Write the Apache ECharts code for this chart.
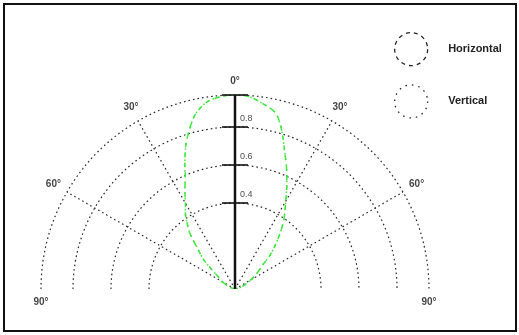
<!DOCTYPE html>
<html>
<head>
<meta charset="utf-8">
<script src="https://cdn.jsdelivr.net/npm/echarts@6/dist/echarts.min.js"></script>
<style>
  html, body { margin: 0; padding: 0; background: #ffffff; }
  #chart { width: 519px; height: 335px; }
</style>
</head>
<body>
<div id="chart"></div>
<script>
// Directivity: relative luminous intensity vs. angle from the optical axis
const curveAngles = [-90, -70, -60, -55, -50, -47, -43, -39, -36, -33,
  -30, -27, -24, -22, -19, -17, -14, -12, -8.5, -4,
  0,
  4, 8, 12.7, 15, 17, 20, 23, 26, 31, 35,
  39, 43, 46, 49, 53, 57, 62, 68, 75, 90];
const horizontalValues = [0, 0.03, 0.08, 0.10, 0.16, 0.22, 0.28, 0.37, 0.42, 0.47,
  0.51, 0.57, 0.63, 0.69, 0.78, 0.83, 0.90, 0.935, 0.975, 0.995,
  1.0,
  0.995, 0.97, 0.935, 0.89, 0.835, 0.75, 0.68, 0.61, 0.505, 0.44,
  0.37, 0.30, 0.25, 0.19, 0.15, 0.12, 0.08, 0.05, 0.025, 0];
const verticalValues = [0, 0.03, 0.08, 0.10, 0.155, 0.22, 0.28, 0.37, 0.42, 0.47,
  0.51, 0.57, 0.63, 0.69, 0.78, 0.83, 0.90, 0.935, 0.975, 0.995,
  1.0,
  0.995, 0.97, 0.935, 0.89, 0.835, 0.75, 0.68, 0.61, 0.505, 0.44,
  0.37, 0.30, 0.25, 0.19, 0.15, 0.12, 0.08, 0.05, 0.025, 0];
const seriesNames = ['Horizontal', 'Vertical'];

// Angle scale
const angleTicks = [-90, -60, -30, 0, 30, 60, 90];
const angleTickLabels = ['90°', '60°', '30°', '0°', '30°', '60°', '90°'];
const radialAngles = [-60, -30, 30, 60];

// Intensity rings along the optical axis
const ringValues = [0.4, 0.6, 0.8];
const ringLabels = ['0.4', '0.6', '0.8'];
const radiusMax = 1.0;

// Layout
const CX = 235, CY = 289, R = 194;
const RING_INNER = 86, RING_OUTER = 162;
const FONT = 'Liberation Sans';
const DOT = [1.6, 3];
const GRID_COLOR = '#2a2a2a';
const GREEN = '#3ee83e';

const chart = echarts.init(document.getElementById('chart'), null, { renderer: 'canvas' });

const semicircleAngle = (show) => ({
  type: 'value', min: -90, max: 90, startAngle: 180, endAngle: 0, clockwise: true,
  axisLine: { show: show, lineStyle: { color: GRID_COLOR, width: 1.2, type: DOT } },
  axisTick: { show: false }, axisLabel: { show: false }, splitLine: { show: false }
});

function angleLabelStyle(a) {
  const base = { show: true, color: '#111', fontFamily: FONT, fontSize: 10, fontWeight: 'bold' };
  if (Math.abs(a) === 90) return Object.assign(base, { position: 'bottom', distance: 8 });
  if (Math.abs(a) === 60) return Object.assign(base, { position: a < 0 ? 'left' : 'right', distance: 6, offset: [0, -8] });
  if (Math.abs(a) === 30) return Object.assign(base, { position: 'top', distance: 9, offset: [a < 0 ? -7 : 8, 0] });
  return Object.assign(base, { position: 'top', distance: 9 });
}

const radialSeries = radialAngles.map(a => ({
  type: 'line', coordinateSystem: 'polar', polarIndex: 0, silent: true,
  symbol: 'none', z: 1,
  lineStyle: { color: GRID_COLOR, width: 1.2, type: DOT },
  data: [[0, a], [radiusMax, a]]
}));

const option = {
  backgroundColor: '#ffffff',
  animation: false,
  polar: [
    { center: [CX, CY], radius: R },
    { center: [CX, CY], radius: [RING_INNER, RING_OUTER] }
  ],
  angleAxis: [
    Object.assign({ polarIndex: 0 }, semicircleAngle(true)),
    Object.assign({ polarIndex: 1 }, semicircleAngle(false))
  ],
  radiusAxis: [
    { polarIndex: 0, type: 'value', min: 0, max: radiusMax,
      axisLine: { show: false }, axisTick: { show: false }, axisLabel: { show: false }, splitLine: { show: false } },
    { polarIndex: 1, type: 'value', min: ringValues[0], max: ringValues[ringValues.length - 1], interval: 0.2,
      axisLine: { show: false }, axisTick: { show: false }, axisLabel: { show: false },
      splitLine: { show: true, lineStyle: { color: GRID_COLOR, width: 1.2, type: DOT } } }
  ],
  legend: {
    orient: 'vertical', left: 394, top: 32, padding: 0,
    itemWidth: 64, itemHeight: 33, itemGap: 18,
    textStyle: { color: '#222', fontFamily: FONT, fontSize: 11, fontWeight: 'bold' },
    data: [
      { name: seriesNames[0], icon: 'circle',
        itemStyle: { color: 'rgba(0,0,0,0)', borderColor: '#222', borderWidth: 1.3, borderType: [4, 4] } },
      { name: seriesNames[1], icon: 'circle',
        itemStyle: { color: 'rgba(0,0,0,0)', borderColor: '#222', borderWidth: 1.3, borderType: [1.5, 5] } }
    ]
  },
  graphic: [{
    type: 'rect', silent: true,
    shape: { x: 4, y: 4, width: 512, height: 327 },
    style: { fill: 'none', stroke: '#111', lineWidth: 2 }
  }],
  series: [
    ...radialSeries,
    {
      name: seriesNames[0], type: 'line', coordinateSystem: 'polar', polarIndex: 0,
      symbol: 'none', smooth: 0.3, z: 3,
      lineStyle: { color: GREEN, width: 1.5, type: [5, 5] },
      itemStyle: { color: GREEN },
      data: curveAngles.map((a, i) => [horizontalValues[i], a])
    },
    {
      name: seriesNames[1], type: 'line', coordinateSystem: 'polar', polarIndex: 0,
      symbol: 'none', smooth: 0.3, z: 3,
      lineStyle: { color: GREEN, width: 1.5, type: [1.5, 4], dashOffset: 2 },
      itemStyle: { color: GREEN },
      data: curveAngles.map((a, i) => [verticalValues[i], a])
    },
    {
      // optical axis
      type: 'line', coordinateSystem: 'polar', polarIndex: 0, silent: true,
      symbol: 'none', z: 5,
      lineStyle: { color: '#111', width: 2.5, type: 'solid' },
      data: [[0, 0], [radiusMax, 0]]
    },
    {
      // ring ticks with their values
      type: 'scatter', coordinateSystem: 'polar', polarIndex: 1, silent: true, z: 6,
      symbol: 'rect', symbolSize: [26, 2], itemStyle: { color: '#111' },
      label: { show: true, position: [18, -12], color: '#222', fontFamily: FONT, fontSize: 9,
        formatter: p => ringLabels[p.dataIndex] },
      data: ringValues.map(v => [v, 0])
    },
    {
      // top tick
      type: 'scatter', coordinateSystem: 'polar', polarIndex: 0, silent: true, z: 6,
      symbol: 'rect', symbolSize: [26, 2], itemStyle: { color: '#111' },
      data: [[radiusMax, 0]]
    },
    {
      // angle labels
      type: 'scatter', coordinateSystem: 'polar', polarIndex: 0, silent: true, z: 6,
      symbol: 'circle', symbolSize: 0, itemStyle: { color: 'rgba(0,0,0,0)' },
      data: angleTicks.map((a, i) => ({
        value: [radiusMax, a],
        label: Object.assign(angleLabelStyle(a), { formatter: angleTickLabels[i] })
      }))
    }
  ]
};

chart.setOption(option);
</script>
</body>
</html>
